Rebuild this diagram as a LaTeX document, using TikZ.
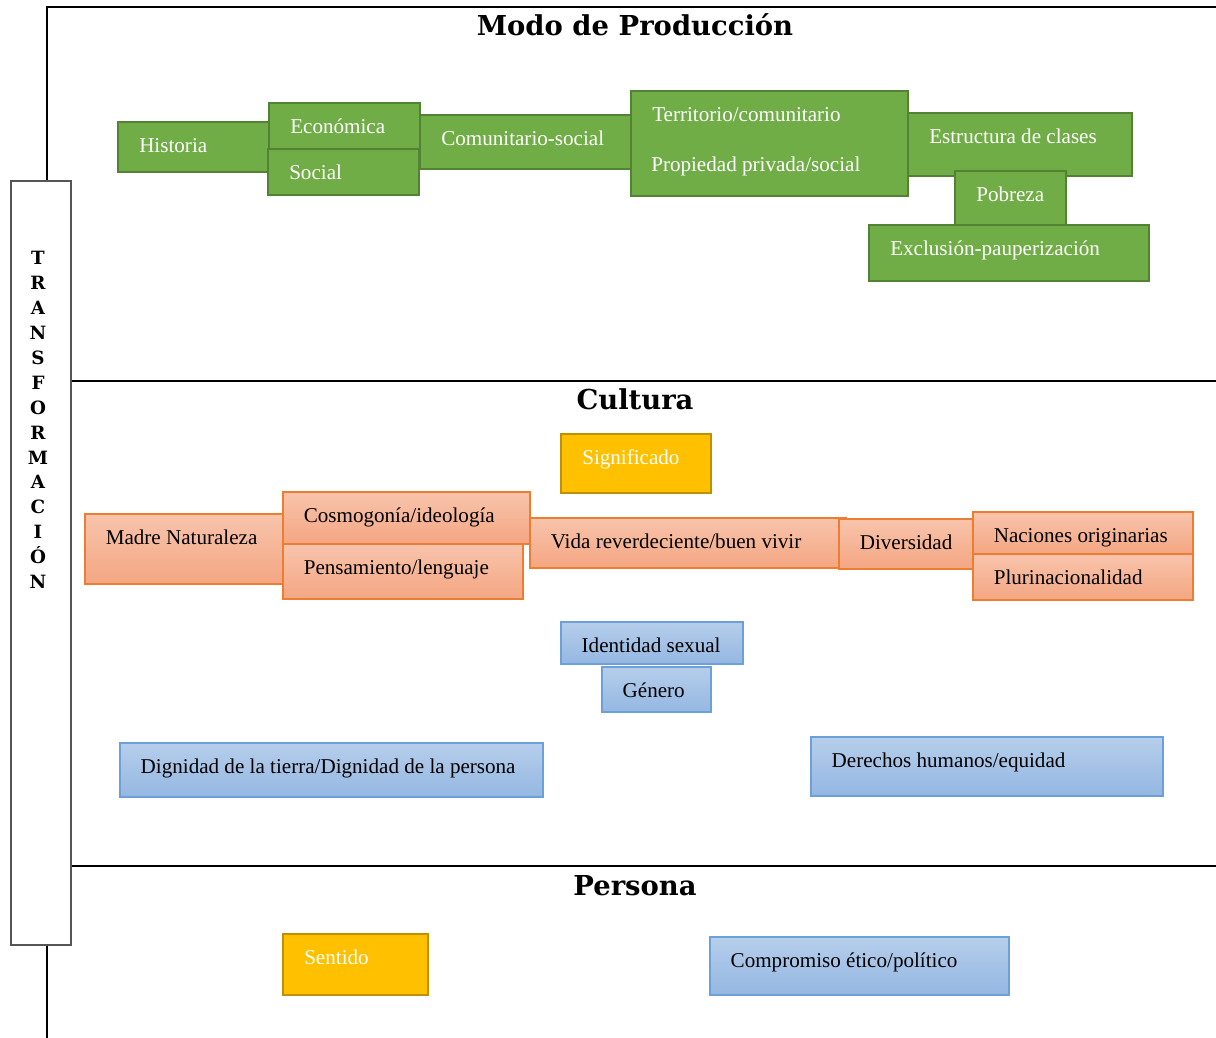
\documentclass[tikz,border=0pt]{standalone}
\usepackage{fontspec}
\setmainfont{Liberation Serif}
\newfontfamily\headFont{DejaVu Serif}
\usetikzlibrary{positioning}
\definecolor{greenFill}{RGB}{112,173,71}
\definecolor{greenLine}{RGB}{84,130,53}
\definecolor{orangeTop}{RGB}{248,196,172}
\definecolor{orangeBottom}{RGB}{244,166,130}
\definecolor{orangeLine}{RGB}{237,125,49}
\definecolor{blueTop}{RGB}{182,206,235}
\definecolor{blueBottom}{RGB}{148,183,226}
\definecolor{blueLine}{RGB}{108,160,216}
\definecolor{yellowFill}{RGB}{255,192,0}
\definecolor{yellowLine}{RGB}{191,144,0}
\definecolor{frameGray}{RGB}{85,85,85}
\tikzstyle{sheet} = [x = 0.025cm, y = -0.025cm]
\tikzstyle{frameLine} = [color=black, line width=1.4pt]
\tikzstyle{greenBox} = [fill=greenFill, draw=greenLine, line width=1.8pt, text=white]
\tikzstyle{orangeBox} = [top color=orangeTop, bottom color=orangeBottom, draw=orangeLine, line width=1.1pt, text=black]
\tikzstyle{blueBox} = [top color=blueTop, bottom color=blueBottom, draw=blueLine, line width=1pt, text=black]
\tikzstyle{yellowBox} = [fill=yellowFill, draw=yellowLine, line width=1.8pt, text=white]
\tikzstyle{boxText} = [inner sep=0pt, anchor=base west, font=\fontsize{15}{17}\selectfont]
\tikzstyle{heading} = [inner sep=0pt, font=\headFont\bfseries\fontsize{19.5}{22}\selectfont]
\tikzstyle{transText} = [inner sep=0pt, align=center, font=\headFont\bfseries\fontsize{13}{17.7}\selectfont]
\newcommand{\conceptBox}[7]{\filldraw [#1] (#3, #4) rectangle (#5, #6) (#3 + 20, #4 + 30) node [boxText] (#2) {#7};}

\begin{document}
\begin{tikzpicture}[sheet]
      \useasboundingbox (0, 0) rectangle (1216, 1038);

      % frame
      \draw[frameLine] (47, 181) -- (47, 7) -- (1216, 7);
      \draw[frameLine] (71, 381) -- (1216, 381);
      \draw[frameLine] (71, 866) -- (1216, 866);
      \draw[frameLine] (47, 945) -- (47, 1038);
      \filldraw[fill=white, draw=frameGray, line width=1pt] (11, 181) rectangle (71, 945);
      \node[transText] (transformacion) at (38, 420) {T\\R\\A\\N\\S\\F\\O\\R\\M\\A\\C\\I\\Ó\\N};

      \node[heading] (modo) at (635, 25) {Modo de Producción};
      \node[heading] (cultura) at (635, 399) {Cultura};
      \node[heading] (persona) at (635, 886) {Persona};

      % modo de produccion
      \conceptBox{greenBox}{historia}{118}{122}{270}{172}{Historia}
      \conceptBox{greenBox}{economica}{269}{103}{420}{149}{Económica}
      \conceptBox{greenBox}{social}{268}{149}{419}{195}{Social}
      \conceptBox{greenBox}{comunitario}{420}{115}{631}{169}{Comunitario-social}
      \conceptBox{greenBox}{territorio}{631}{91}{908}{196}{Territorio/comunitario}
      \node[boxText, text=white] (propiedad) at ([yshift=-50*0.025cm]territorio.base west) {Propiedad privada/social};
      \conceptBox{greenBox}{estructura}{908}{113}{1132}{176}{Estructura de clases}
      \conceptBox{greenBox}{exclusion}{869}{225}{1149}{281}{Exclusión-pauperización}
      \conceptBox{greenBox}{pobreza}{955}{171}{1066}{225}{Pobreza}

      % cultura
      \conceptBox{yellowBox}{significado}{561}{434}{711}{493}{Significado}
      \conceptBox{orangeBox}{madre}{85}{514}{283}{584}{Madre Naturaleza}
      \conceptBox{orangeBox}{cosmogonia}{283}{492}{530}{544}{Cosmogonía/ideología}
      \conceptBox{orangeBox}{pensamiento}{283}{544}{523}{599}{Pensamiento/lenguaje}
      \conceptBox{orangeBox}{vida}{530}{518}{846}{568}{Vida reverdeciente/buen vivir}
      \conceptBox{orangeBox}{diversidad}{839}{519}{973}{569}{Diversidad}
      \conceptBox{orangeBox}{naciones}{973}{512}{1193}{554}{Naciones originarias}
      \conceptBox{orangeBox}{plurinacionalidad}{973}{554}{1193}{600}{Plurinacionalidad}
      \conceptBox{blueBox}{identidad}{561}{622}{743}{664}{Identidad sexual}
      \conceptBox{blueBox}{genero}{602}{667}{711}{712}{Género}
      \conceptBox{blueBox}{dignidad}{120}{743}{543}{797}{Dignidad de la tierra/Dignidad de la persona}
      \conceptBox{blueBox}{derechos}{811}{737}{1163}{796}{Derechos humanos/equidad}

      % persona
      \conceptBox{yellowBox}{sentido}{283}{934}{428}{995}{Sentido}
      \conceptBox{blueBox}{compromiso}{710}{937}{1009}{995}{Compromiso ético/político}
\end{tikzpicture}
\end{document}
